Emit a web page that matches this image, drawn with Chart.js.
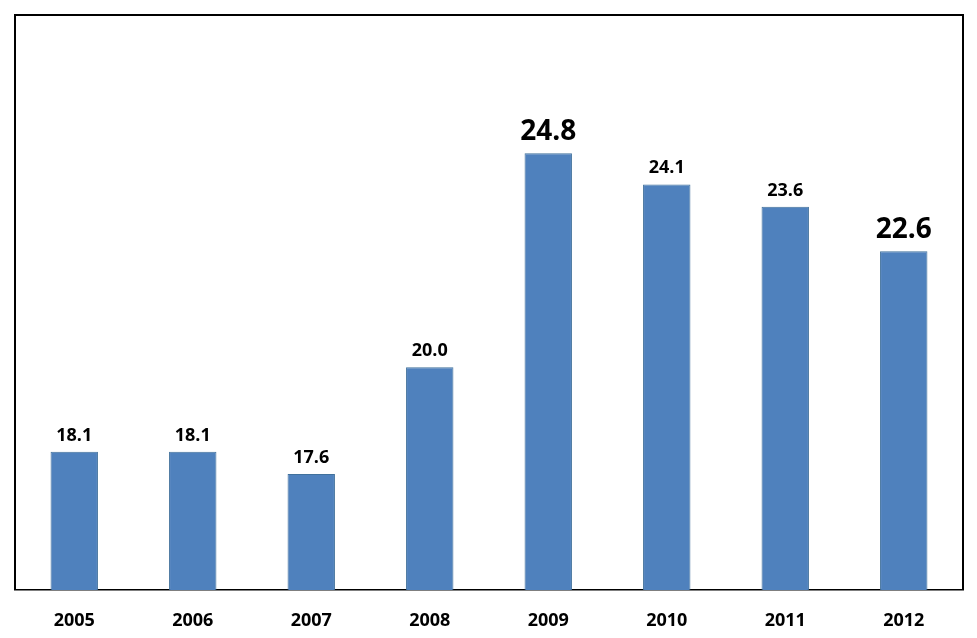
<!DOCTYPE html>
<html>
<head>
<meta charset="utf-8">
<script src="https://cdn.jsdelivr.net/npm/chart.js@4/dist/chart.umd.min.js"></script>
<style>
  html, body { margin: 0; padding: 0; background: #fff; }
  #wrap { width: 977px; height: 638px; }
</style>
</head>
<body>
<div id="wrap"><canvas id="chart"></canvas></div>
<script>
const years = ['2005', '2006', '2007', '2008', '2009', '2010', '2011', '2012']
const values = [18.1, 18.1, 17.6, 20.0, 24.8, 24.1, 23.6, 22.6]
// the two highlighted labels are drawn larger
const bigLabels = [false, false, false, false, true, false, false, true]

const frame = {
    id: 'frame',
    afterDraw(chart) {
        const {ctx, chartArea: a} = chart
        ctx.save()
        ctx.strokeStyle = '#000'
        ctx.lineWidth = 2
        ctx.beginPath()
        ctx.moveTo(a.left, a.bottom)
        ctx.lineTo(a.left, a.top)
        ctx.lineTo(a.right, a.top)
        ctx.lineTo(a.right, a.bottom)
        ctx.stroke()
        ctx.restore()
    }
}

const barLabels = {
    id: 'barLabels',
    afterDatasetsDraw(chart) {
        const ctx = chart.ctx
        const meta = chart.getDatasetMeta(0)
        ctx.save()
        ctx.fillStyle = '#000'
        ctx.textAlign = 'center'
        ctx.textBaseline = 'alphabetic'
        meta.data.forEach((bar, i) => {
            const big = bigLabels[i]
            ctx.font = big ? 'bold 28px "Open Sans"' : 'bold 18px "Open Sans"'
            ctx.fillText(values[i].toFixed(1), bar.x, bar.y - (big ? 13 : 11))
        })
        ctx.restore()
    }
}

new Chart(document.getElementById('chart'), {
    type: 'bar',
    data: {
        labels: years,
        datasets: [{
            data: values,
            backgroundColor: '#4F81BD',
            borderColor: '#41719C',
            borderWidth: 1,
            barPercentage: 0.4,
            categoryPercentage: 1.0
        }]
    },
    options: {
        responsive: true,
        maintainAspectRatio: false,
        animation: false,
        layout: { padding: { left: 15, right: 14, top: 15, bottom: 0 } },
        plugins: { legend: { display: false }, tooltip: { enabled: false } },
        scales: {
            x: {
                grid: { display: false },
                border: { display: true, color: '#000', width: 1.5 },
                ticks: {
                    color: '#000',
                    font: { family: 'Open Sans', size: 18, weight: 'bold' },
                    padding: 12
                },
                afterFit(scale) { scale.height = 48 }
            },
            y: {
                display: false,
                min: 15,
                max: 27.9
            }
        }
    },
    plugins: [frame, barLabels]
})
</script>
</body>
</html>
